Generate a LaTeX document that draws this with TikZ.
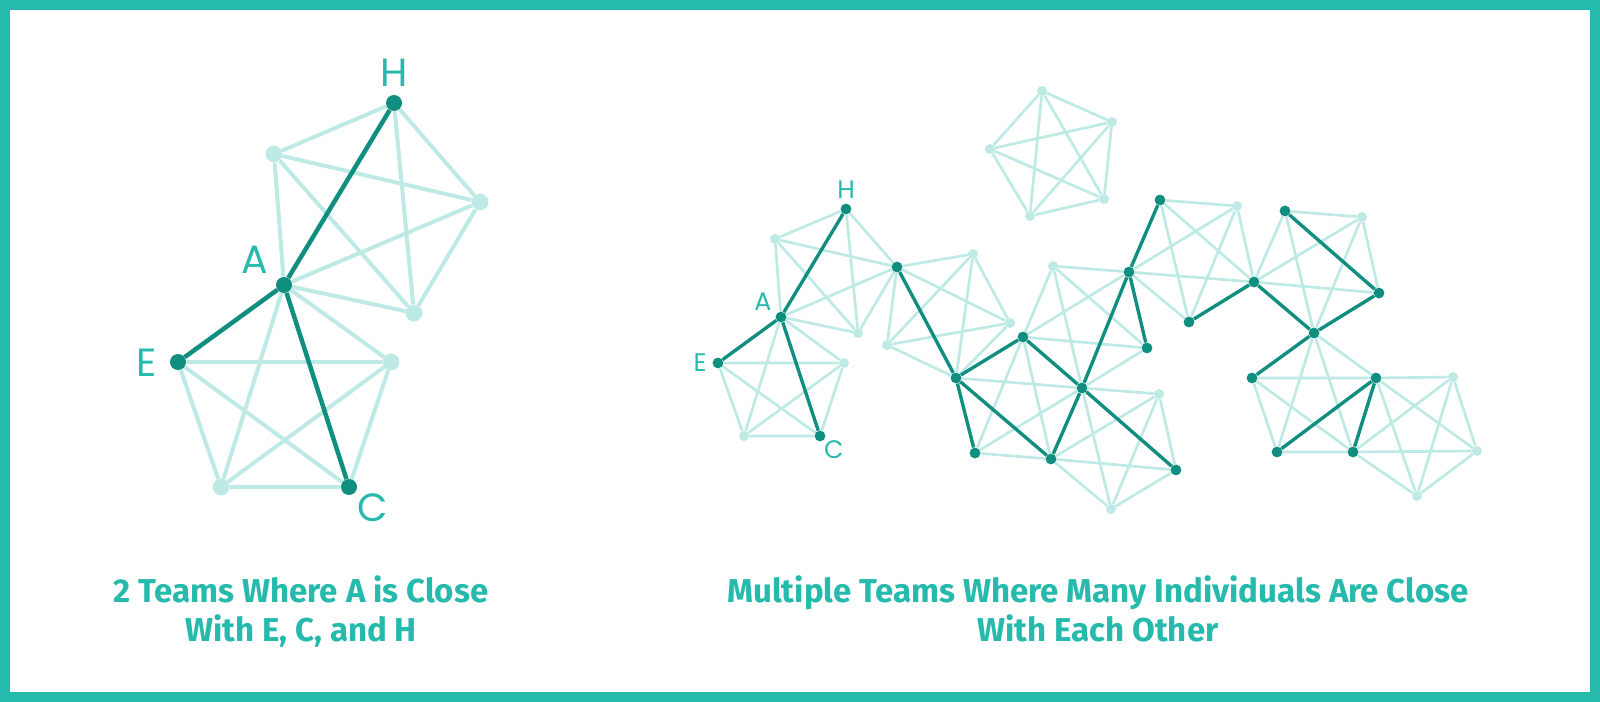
\documentclass[tikz,border=0pt]{standalone}
\usepackage{fontspec}
\newfontfamily\capfont{Fira Sans}
\newfontfamily\lblfont{Poppins}
\usetikzlibrary{backgrounds}
\definecolor{frame}{RGB}{38,186,173}
\definecolor{teamdark}{RGB}{16,143,128}
\definecolor{teamlight}{RGB}{190,234,229}

\begin{document}
\begin{tikzpicture}[x=0.025cm,y=0.025cm]
\tikzstyle{every node}+=[inner sep=0pt]
\tikzstyle{bigDotOn}=[circle,fill=teamdark,minimum size=0.4cm]
\tikzstyle{bigDotOff}=[circle,fill=teamlight,minimum size=0.42cm]
\tikzstyle{dotOn}=[circle,fill=teamdark,minimum size=0.27cm]
\tikzstyle{dotOff}=[circle,fill=teamlight,minimum size=0.25cm]
\tikzstyle{bigTie}=[teamlight,line width=2.8pt]
\tikzstyle{bigTieOn}=[teamdark,line width=3.2pt]
\tikzstyle{tie}=[teamlight,line width=1.9pt]
\tikzstyle{tieOn}=[teamdark,line width=2.4pt]
\tikzstyle{bigLabel}=[text=frame,font=\lblfont\fontsize{28}{28}\selectfont]
\tikzstyle{smallLabel}=[text=frame,font=\lblfont\fontsize{18}{18}\selectfont]
\tikzstyle{caption}=[anchor=base,text=frame,font=\capfont\bfseries\fontsize{23.5}{28}\selectfont]
\useasboundingbox (0,0) rectangle (1600,-702);
\node[bigDotOn] (lH) at (394,-103) {};
\node[bigDotOff] (lTL) at (274,-154) {};
\node[bigDotOff] (lR) at (480,-202) {};
\node[bigDotOn] (lA) at (284,-285) {};
\node[bigDotOff] (lB) at (414,-313) {};
\node[bigDotOn] (lE) at (178,-362) {};
\node[bigDotOff] (lR2) at (391,-362) {};
\node[bigDotOff] (lBL) at (221,-487) {};
\node[bigDotOn] (lC) at (349,-487) {};
\node[bigLabel] (tH) at (394,-73) {H};
\node[bigLabel] (tA) at (255,-260) {A};
\node[bigLabel] (tE) at (147,-363) {E};
\node[bigLabel] (tC) at (373,-508) {C};
\node[dotOn] (rH) at (846,-209) {};
\node[dotOff] (ra) at (775,-239) {};
\node[dotOn] (rA) at (781,-317) {};
\node[dotOff] (rb) at (858,-333) {};
\node[dotOn] (hubA) at (897,-267) {};
\node[dotOn] (rE) at (718,-363) {};
\node[dotOff] (rc) at (844,-363) {};
\node[dotOff] (rd) at (744,-436) {};
\node[dotOn] (rC) at (820,-436) {};
\node[dotOff] (re) at (973,-254) {};
\node[dotOff] (rf) at (1010,-323) {};
\node[dotOff] (rg) at (887,-345) {};
\node[dotOn] (hubB) at (956,-378) {};
\node[dotOn] (rp) at (1023,-337) {};
\node[dotOn] (rt) at (1082,-388) {};
\node[dotOn] (rv) at (975,-453) {};
\node[dotOn] (rw) at (1051,-459) {};
\node[dotOff] (rq) at (1053,-266) {};
\node[dotOn] (rr) at (1129,-272) {};
\node[dotOn] (rs) at (1147,-348) {};
\node[dotOff] (ru) at (1159,-394) {};
\node[dotOn] (rx) at (1176,-470) {};
\node[dotOff] (ry) at (1111,-509) {};
\node[dotOff] (k1) at (1042,-91) {};
\node[dotOff] (k2) at (1112,-122) {};
\node[dotOff] (k3) at (990,-149) {};
\node[dotOff] (k4) at (1104,-199) {};
\node[dotOff] (k5) at (1030,-216) {};
\node[dotOn] (rz) at (1160,-200) {};
\node[dotOff] (l1) at (1237,-206) {};
\node[dotOn] (hubC) at (1254,-282) {};
\node[dotOn] (rD1) at (1189,-322) {};
\node[dotOn] (rD2) at (1285,-211) {};
\node[dotOff] (l2) at (1362,-217) {};
\node[dotOn] (rD3) at (1379,-293) {};
\node[dotOn] (hubD) at (1314,-333) {};
\node[dotOn] (rD4) at (1252,-378) {};
\node[dotOn] (rD5) at (1376,-378) {};
\node[dotOn] (rD6) at (1277,-452) {};
\node[dotOn] (rD7) at (1353,-452) {};
\node[dotOff] (l3) at (1453,-377) {};
\node[dotOff] (l4) at (1477,-451) {};
\node[dotOff] (l5) at (1417,-496) {};
\node[smallLabel] (sH) at (846,-190) {H};
\node[smallLabel] (sA) at (763,-302) {A};
\node[smallLabel] (sE) at (700,-363) {E};
\node[smallLabel] (sC) at (834,-450) {C};
\node[caption] (capL1) at (301,-602) {2 Teams Where A is Close};
\node[caption] (capL2) at (301,-641) {With E, C, and H};
\node[caption] (capR1) at (1098,-602) {Multiple Teams Where Many Individuals Are Close};
\node[caption] (capR2) at (1098,-641) {With Each Other};
\begin{scope}[on background layer]
\fill[frame] (0,0) rectangle (1600,-702);
\fill[white] (10,-10) rectangle (1590,-692);
% left: two teams sharing A
\draw[bigTie] (lA) -- (lTL) (lA) -- (lR) (lA) -- (lB) (lTL) -- (lH) (lTL) -- (lR) (lTL) -- (lB) (lH) -- (lR) (lH) -- (lB) (lR) -- (lB);
\draw[bigTie] (lA) -- (lR2) (lA) -- (lBL) (lE) -- (lR2) (lE) -- (lBL) (lE) -- (lC) (lR2) -- (lBL) (lR2) -- (lC) (lBL) -- (lC);
\draw[bigTieOn] (lA) -- (lH) (lA) -- (lE) (lA) -- (lC);
% right: many teams
\draw[tie] (rH) -- (ra) (rH) -- (rb) (rH) -- (hubA) (ra) -- (rA) (ra) -- (rb) (ra) -- (hubA) (rA) -- (rb) (rA) -- (hubA) (rb) -- (hubA);
\draw[tie] (rA) -- (rc) (rA) -- (rd) (rE) -- (rc) (rE) -- (rd) (rE) -- (rC) (rc) -- (rd) (rc) -- (rC) (rd) -- (rC);
\draw[tie] (hubA) -- (re) (hubA) -- (rf) (hubA) -- (rg) (re) -- (rf) (re) -- (rg) (re) -- (hubB) (rf) -- (rg) (rf) -- (hubB) (rg) -- (hubB);
\draw[tie] (hubB) -- (rt) (rp) -- (rv) (rp) -- (rw) (rt) -- (rv) (rv) -- (rw);
\draw[tie] (rp) -- (rq) (rp) -- (rr) (rp) -- (rs) (rq) -- (rr) (rq) -- (rs) (rq) -- (rt) (rs) -- (rt);
\draw[tie] (rt) -- (ru) (rt) -- (ry) (ru) -- (rw) (ru) -- (rx) (ru) -- (ry) (rw) -- (rx) (rw) -- (ry) (rx) -- (ry);
\draw[tie] (k1) -- (k2) (k1) -- (k3) (k1) -- (k4) (k1) -- (k5) (k2) -- (k3) (k2) -- (k4) (k2) -- (k5) (k3) -- (k4) (k3) -- (k5) (k4) -- (k5);
\draw[tie] (rr) -- (l1) (rr) -- (hubC) (rr) -- (rD1) (rz) -- (l1) (rz) -- (hubC) (rz) -- (rD1) (l1) -- (hubC) (l1) -- (rD1);
\draw[tie] (hubC) -- (rD2) (hubC) -- (l2) (hubC) -- (rD3) (rD2) -- (l2) (rD2) -- (hubD) (l2) -- (rD3) (l2) -- (hubD);
\draw[tie] (hubD) -- (rD5) (hubD) -- (rD6) (hubD) -- (rD7) (rD4) -- (rD5) (rD4) -- (rD6) (rD4) -- (rD7) (rD6) -- (rD7);
\draw[tie] (rD5) -- (l3) (rD5) -- (l4) (rD5) -- (l5) (l3) -- (l4) (l3) -- (l5) (l3) -- (rD7) (l4) -- (l5) (l4) -- (rD7) (l5) -- (rD7);
\draw[tieOn] (rA) -- (rH) (rA) -- (rE) (rA) -- (rC) (hubA) -- (hubB) (hubB) -- (rp) (hubB) -- (rv) (hubB) -- (rw);
\draw[tieOn] (rp) -- (rt) (rt) -- (rw) (rt) -- (rr) (rt) -- (rx) (rr) -- (rs) (rr) -- (rz) (hubC) -- (rD1);
\draw[tieOn] (hubC) -- (hubD) (rD2) -- (rD3) (rD3) -- (hubD) (hubD) -- (rD4) (rD5) -- (rD6) (rD5) -- (rD7);
\end{scope}
\end{tikzpicture}
\end{document}
